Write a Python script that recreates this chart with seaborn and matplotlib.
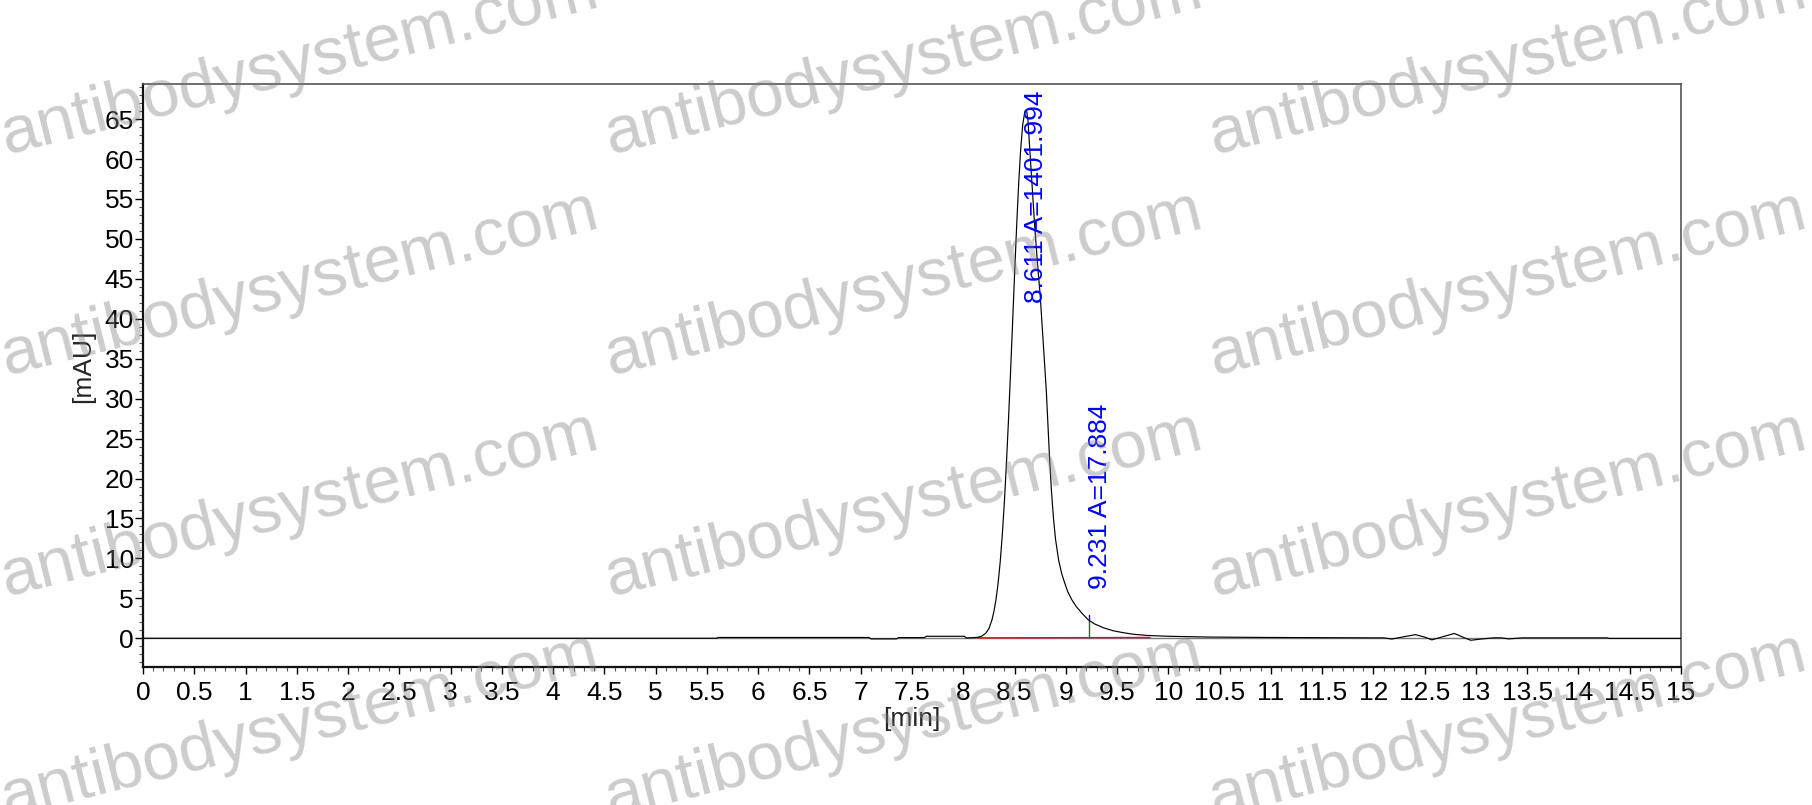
import matplotlib
matplotlib.use("Agg")
import matplotlib.pyplot as plt
from matplotlib.ticker import MultipleLocator, FuncFormatter
import seaborn as sns

# Chromatogram trace (min, mAU)
time_min = [
    0.0, 5.59, 5.61, 7.08, 7.10, 7.35, 7.37, 7.62, 7.64, 8.01, 8.03, 8.10,
    8.14, 8.18, 8.22, 8.25, 8.28, 8.30, 8.32, 8.34, 8.36, 8.38, 8.40, 8.42,
    8.44, 8.46, 8.48, 8.50, 8.52, 8.54, 8.56, 8.58, 8.60, 8.611, 8.62, 8.63,
    8.65, 8.67, 8.70, 8.73, 8.75, 8.78, 8.81, 8.84, 8.86, 8.88, 8.90, 8.93,
    8.96, 8.99, 9.02, 9.06, 9.10, 9.16, 9.22, 9.28, 9.37, 9.46, 9.56, 9.66,
    9.80, 10.0, 10.4, 11.0, 12.0, 12.10, 12.18, 12.30, 12.41, 12.50, 12.57,
    12.68, 12.79, 12.88, 12.95, 13.05, 13.17, 13.25, 13.32, 13.40, 13.45,
    14.28, 14.30, 15.0,
]
signal_mau = [
    0.0, 0.0, 0.1, 0.1, -0.08, -0.08, 0.08, 0.08, 0.25, 0.25, 0.05, 0.08,
    0.12, 0.26, 0.64, 1.2, 2.3, 3.4, 4.9, 6.9, 9.5, 12.8, 16.8, 21.6,
    27.0, 32.9, 39.1, 45.4, 51.4, 56.8, 61.2, 64.3, 65.9, 66.1, 65.9, 65.0,
    61.0, 57.0, 51.0, 46.0, 43.0, 37.0, 31.0, 23.0, 18.5, 15.0, 12.4, 9.8,
    8.1, 6.9, 5.8, 4.8, 4.0, 3.1, 2.3, 1.8, 1.3, 0.95, 0.7, 0.5,
    0.35, 0.25, 0.15, 0.1, 0.05, 0.05, -0.1, 0.2, 0.45, 0.15, -0.2,
    0.2, 0.6, 0.1, -0.25, -0.1, 0.05, 0.05, -0.08, 0.0, 0.05,
    0.05, -0.02, -0.02,
]

# integration baseline and peak markers
base_t = [8.14, 9.82]
base_v = [0.05, 0.1]
split_t = 9.231
split_v = 2.2

peak_labels = ["8.611 A=1401.994", "9.231 A=17.884"]
label_x = [8.71, 9.33]
label_y = [41.95, 6.2]

x_ticks = [i * 0.5 for i in range(31)]
y_ticks = list(range(0, 70, 5))

sns.set_style("ticks")
plt.rcParams['font.family'] = ['Liberation Sans', 'DejaVu Sans']

fig = plt.figure(figsize=(18.12, 8.05), dpi=100)
ax = fig.add_axes([0.0789, 0.1714, 0.8488, 0.7243])

ax.axhline(0, color="#7a7a7a", lw=1.0, zorder=1)
sns.lineplot(x=time_min, y=signal_mau, ax=ax, color="black", lw=0.85, zorder=3)
sns.lineplot(x=base_t, y=base_v, ax=ax, color="red", lw=1.0, zorder=2)
ax.plot([split_t, split_t], [0.07, split_v], color="green", lw=1.0, zorder=4)
ax.plot([split_t, split_t], [split_v, split_v + 0.7], color="blue", lw=1.0, zorder=4)

for s, xx, yy in zip(peak_labels, label_x, label_y):
    ax.text(xx, yy, s, rotation=90, ha="center", va="bottom", color="#0000ff",
            fontsize=19, clip_on=False, zorder=5)

ax.set_xlim(0, 15)
ax.set_ylim(-3.6, 69.4)
ax.set_xticks(x_ticks)
ax.set_yticks(y_ticks)
ax.xaxis.set_major_formatter(FuncFormatter(lambda v, p: f"{v:g}"))
ax.xaxis.set_minor_locator(MultipleLocator(0.1))
ax.yaxis.set_minor_locator(MultipleLocator(1))
ax.tick_params(axis="x", which="major", length=5, width=1, pad=5, labelsize=19, colors="black")
ax.tick_params(axis="x", which="minor", length=3, width=0.8, color="#555555")
ax.tick_params(axis="y", which="major", length=6, width=1, pad=0.5, labelsize=19, colors="black")
ax.tick_params(axis="y", which="minor", length=3, width=0.8, color="#555555")

ax.set_xlabel("[min]", fontsize=19)
ax.set_ylabel("[mAU]", fontsize=19)
ax.xaxis.set_label_coords(0.5, -0.0686)
ax.yaxis.set_label_coords(-0.031, 0.515)

for side in ["left", "bottom"]:
    ax.spines[side].set_linewidth(1.6)
    ax.spines[side].set_color("#111111")
for side in ["top", "right"]:
    ax.spines[side].set_linewidth(1.2)
    ax.spines[side].set_color("#555555")

# watermark grid
W, H = 1812, 805
for col in range(3):
    for row in range(4):
        px = 6 + col * 604
        py = 154 + row * 221
        fig.text(px / W, 1 - py / H, "antibodysystem.com", rotation=14,
                 rotation_mode="anchor", ha="left", va="baseline",
                 fontsize=48.5, color="gray", alpha=0.4, zorder=10)

fig.savefig("out.png", dpi=100)
